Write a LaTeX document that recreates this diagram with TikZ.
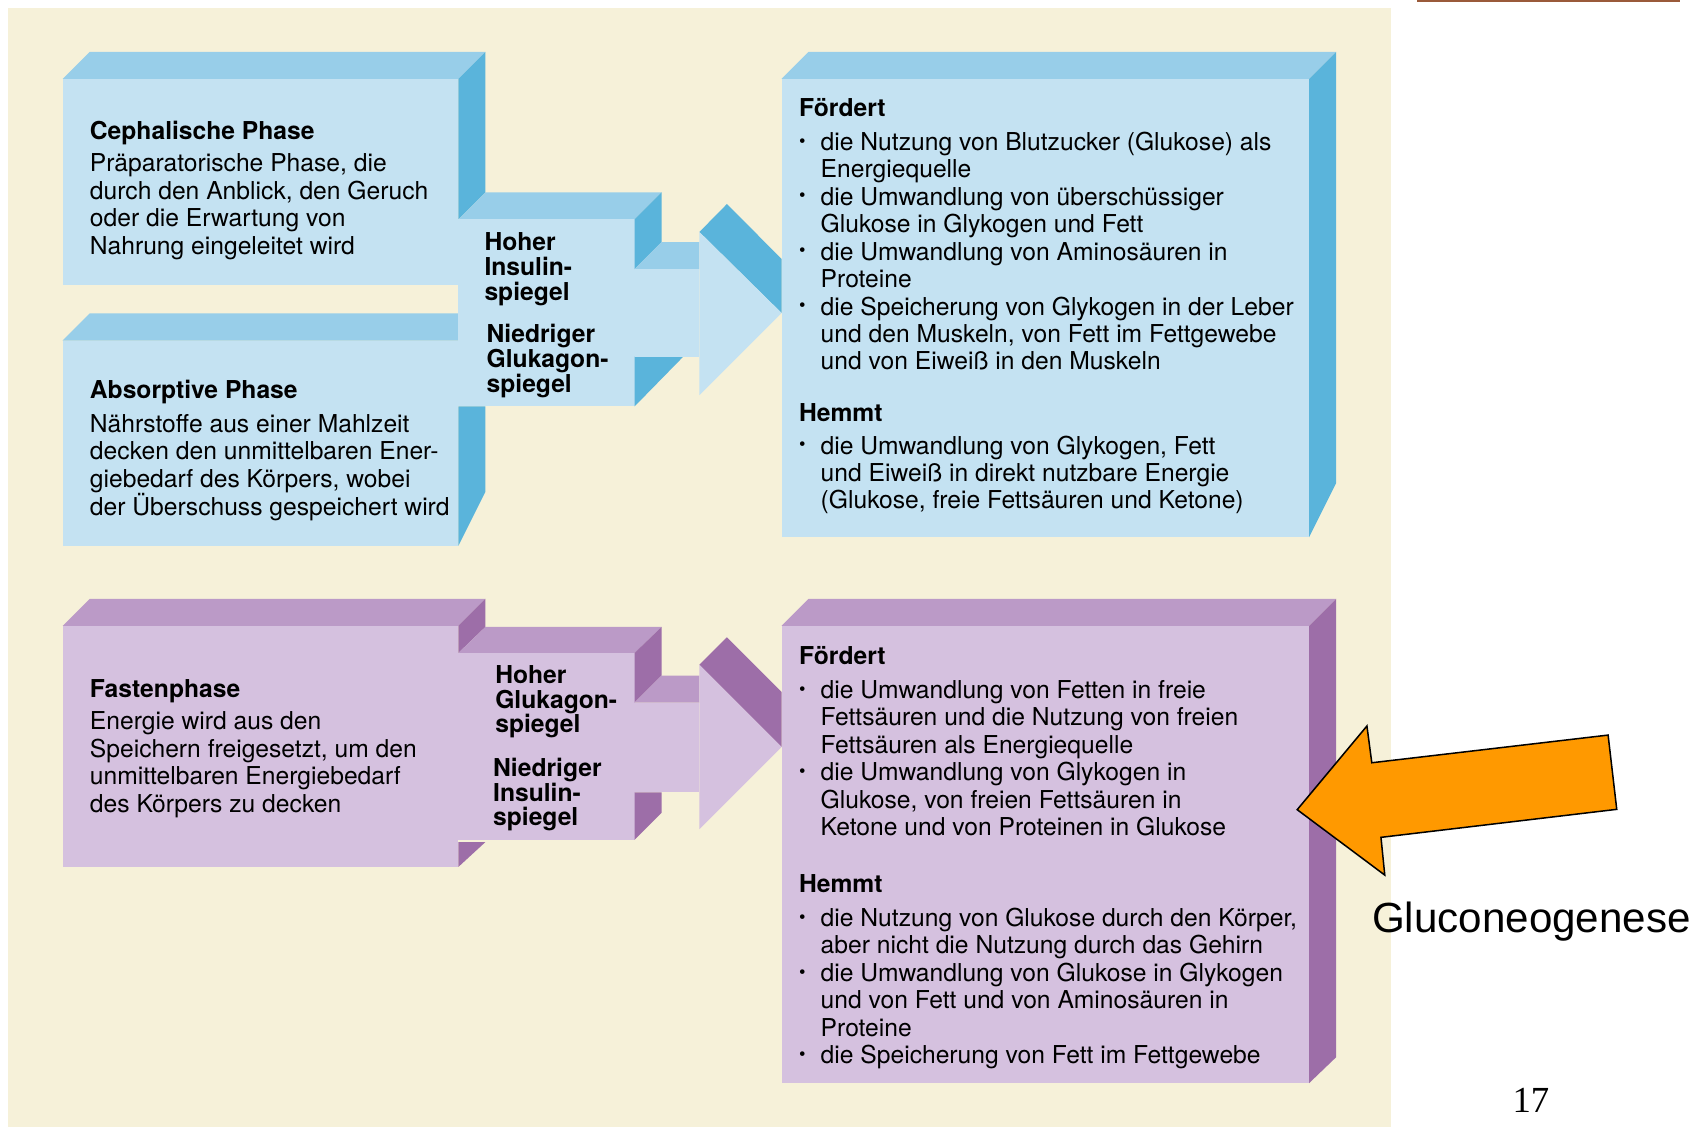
\documentclass[tikz,border=0pt]{standalone}
\usepackage{fontspec}
\setmainfont{TeX Gyre Heros}
\newfontfamily\arialfont{Liberation Sans}
\newfontfamily\timesfont{Liberation Serif}
\usepackage{graphicx}
\definecolor{beige}{HTML}{F6F1D9}
\definecolor{bfront}{HTML}{C4E2F2}
\definecolor{btop}{HTML}{98CEE9}
\definecolor{bside}{HTML}{5AB4DB}
\definecolor{pfront}{HTML}{D5C1DF}
\definecolor{ptop}{HTML}{BB9AC7}
\definecolor{pside}{HTML}{9D6EA8}
\definecolor{orangearr}{HTML}{FF9900}
\definecolor{brownbar}{HTML}{9A5A3A}
\newcommand\bulx{\makebox[20pt][l]{\raisebox{0.25ex}{\scalebox{0.75}{•}}}}
\newcommand\indx{\hspace*{20pt}}
\tikzset{
  txt/.style={anchor=base west, inner sep=0pt, font=\fontsize{22.8}{25.4}\selectfont},
  lbl/.style={anchor=base west, inner sep=0pt, font=\fontsize{22.8}{23}\selectfont\bfseries},
}
\begin{document}
\begin{tikzpicture}[x=1pt,y=-1pt]
\useasboundingbox (0,0) rectangle (1568,1043);
\fill[white] (0,0) rectangle (1568,1043);
\fill[beige] (7,7) rectangle (1287,1043);
\fill[brownbar] (1311,0) rectangle (1554,2);

% ===== blue group =====
% box 1
\fill[btop] (58,73) -- (83,48) -- (449,48) -- (424,73) -- cycle;
\fill[bfront] (58,73) rectangle (424,264);
\fill[bside] (424,73) -- (449,48) -- (449,178) -- (424,203) -- cycle;
% box 2
\fill[btop] (58,315) -- (83,290) -- (424,290) -- (424,315) -- cycle;
\fill[bfront] (58,315) rectangle (424,505);
\fill[bside] (424,376) -- (449,376) -- (449,455) -- (424,505) -- cycle;
% middle block
\fill[btop] (424,203) -- (449,178) -- (612,178) -- (587,203) -- cycle;
\fill[bfront] (424,203) rectangle (587,376);
\fill[bside] (587,203) -- (612,178) -- (612,224) -- (587,249) -- cycle;
\fill[bside] (587,330) -- (632,330) -- (587,376) -- cycle;
% shaft
\fill[btop] (587,249) -- (612,224) -- (647,224) -- (647,249) -- cycle;
\fill[bfront] (587,249) rectangle (647,330);
% head
\fill[bside] (647,214.6) -- (672.5,188.7) -- (723,239.6) -- (723,289.5) -- cycle;
\fill[bfront] (647,214.6) -- (723,289.5) -- (647,365.5) -- cycle;
% right box
\fill[btop] (723,73) -- (748,48) -- (1236,48) -- (1211,73) -- cycle;
\fill[bfront] (723,73) rectangle (1211,497);
\fill[bside] (1211,73) -- (1236,48) -- (1236,447) -- (1211,497) -- cycle;

% ===== purple group =====
\fill[ptop] (58,579) -- (83,554) -- (449,554) -- (424,579) -- cycle;
\fill[pfront] (58,579) rectangle (424,802);
\fill[pside] (424,579) -- (449,554) -- (449,580) -- (424,604) -- cycle;
\fill[pside] (424,779) -- (449,779) -- (424,802) -- cycle;
% middle block
\fill[ptop] (424,604) -- (449,580) -- (612,580) -- (587,604) -- cycle;
\fill[pfront] (424,604) rectangle (587,777);
\fill[pside] (587,604) -- (612,580) -- (612,625) -- (587,650) -- cycle;
\fill[pside] (587,733) -- (612,733) -- (612,752) -- (587,777) -- cycle;
% shaft
\fill[ptop] (587,650) -- (612,625) -- (647,625) -- (647,650) -- cycle;
\fill[pfront] (587,650) rectangle (647,733);
% head
\fill[pside] (647,615) -- (672.5,589.5) -- (723,640) -- (723,691) -- cycle;
\fill[pfront] (647,615) -- (723,691) -- (647,767) -- cycle;
% right box
\fill[ptop] (723,579) -- (748,554) -- (1236,554) -- (1211,579) -- cycle;
\fill[pfront] (723,579) rectangle (1211,1002);
\fill[pside] (1211,579) -- (1236,554) -- (1236,978) -- (1211,1002) -- cycle;

% orange arrow
\draw[fill=orangearr, draw=black, line width=1.4pt, line join=miter]
  (1200,749) -- (1264.5,671.6) -- (1269,705.6) -- (1487.6,680) -- (1495.6,748.7)
  -- (1277.5,774.6) -- (1281,809.5) -- cycle;

% ===== texts =====
\node[txt] (cephh) at (83,129) {\bfseries Cephalische Phase};
\node[txt] (cephb) at (83,159) {\parbox[t]{340pt}{Präparatorische Phase, die\\
durch den Anblick, den Geruch\\
oder die Erwartung von\\
Nahrung eingeleitet wird}};

\node[txt] (absh) at (83,369) {\bfseries Absorptive Phase};
\node[txt] (absb) at (83,400) {\parbox[t]{340pt}{Nährstoffe aus einer Mahlzeit\\
decken den unmittelbaren Ener-\\
giebedarf des Körpers, wobei\\
der Überschuss gespeichert wird}};

\node[lbl] (hi1) at (448,232) {\parbox[t]{150pt}{Hoher\\ Insulin-\\ spiegel}};
\node[lbl] (lo1) at (450,317) {\parbox[t]{150pt}{Niedriger\\ Glukagon-\\ spiegel}};

\node[txt] (f1h) at (739,108) {\bfseries Fördert};
\node[txt] (f1b) at (739,139) {\parbox[t]{480pt}{\bulx die Nutzung von Blutzucker (Glukose) als\\
\indx Energiequelle\\
\bulx die Umwandlung von überschüssiger\\
\indx Glukose in Glykogen und Fett\\
\bulx die Umwandlung von Aminosäuren in\\
\indx Proteine\\
\bulx die Speicherung von Glykogen in der Leber\\
\indx und den Muskeln, von Fett im Fettgewebe\\
\indx und von Eiweiß in den Muskeln}};
\node[txt] (h1h) at (739,390) {\bfseries Hemmt};
\node[txt] (h1b) at (739,420) {\parbox[t]{480pt}{\bulx die Umwandlung von Glykogen, Fett\\
\indx und Eiweiß in direkt nutzbare Energie\\
\indx (Glukose, freie Fettsäuren und Ketone)}};

\node[txt] (fash) at (83,645) {\bfseries Fastenphase};
\node[txt] (fasb) at (83,675) {\parbox[t]{340pt}{Energie wird aus den\\
Speichern freigesetzt, um den\\
unmittelbaren Energiebedarf\\
des Körpers zu decken}};

\node[lbl] (hi2) at (458,632) {\parbox[t]{150pt}{Hoher\\ Glukagon-\\ spiegel}};
\node[lbl] (lo2) at (456,718) {\parbox[t]{150pt}{Niedriger\\ Insulin-\\ spiegel}};

\node[txt] (f2h) at (739,615) {\bfseries Fördert};
\node[txt] (f2b) at (739,646) {\parbox[t]{480pt}{\bulx die Umwandlung von Fetten in freie\\
\indx Fettsäuren und die Nutzung von freien\\
\indx Fettsäuren als Energiequelle\\
\bulx die Umwandlung von Glykogen in\\
\indx Glukose, von freien Fettsäuren in\\
\indx Ketone und von Proteinen in Glukose}};
\node[txt] (h2h) at (739,826) {\bfseries Hemmt};
\node[txt] (h2b) at (739,857) {\parbox[t]{480pt}{\bulx die Nutzung von Glukose durch den Körper,\\
\indx aber nicht die Nutzung durch das Gehirn\\
\bulx die Umwandlung von Glukose in Glykogen\\
\indx und von Fett und von Aminosäuren in\\
\indx Proteine\\
\bulx die Speicherung von Fett im Fettgewebe}};

\node[anchor=base west, inner sep=0pt, font=\arialfont\fontsize{39}{40}\selectfont] (glu) at (1269,863) {Gluconeogenese};
\node[anchor=base west, inner sep=0pt, font=\timesfont\fontsize{34}{36}\selectfont] (pg) at (1399,1029) {17};
\end{tikzpicture}
\end{document}
